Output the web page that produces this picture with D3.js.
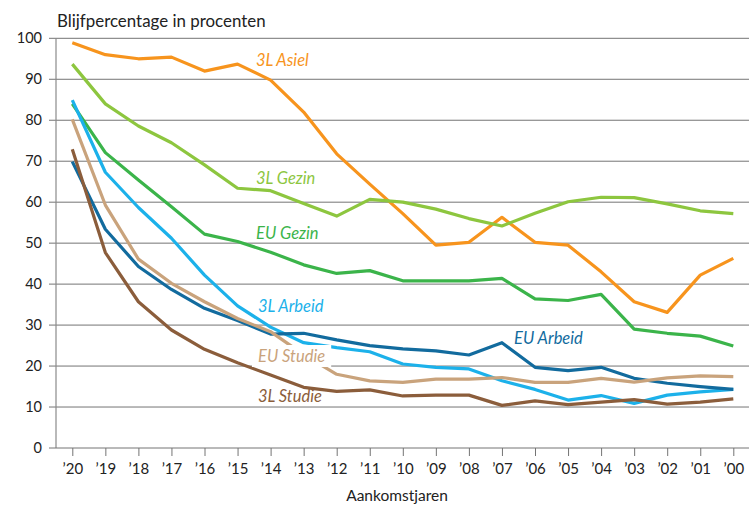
<!DOCTYPE html>
<html>
<head>
<meta charset="utf-8">
<script src="https://cdn.jsdelivr.net/npm/d3@7"></script>
<style>
    body { margin: 0; background: #fff; }
    text { font-family: Lato, "Noto Sans", sans-serif; }
</style>
</head>
<body>
<svg width="749" height="506"></svg>
<script>
var years = ['20', '19', '18', '17', '16', '15', '14', '13', '12', '11', '10', '09', '08', '07', '06', '05', '04', '03', '02', '01', '00']
var yTicks = [0, 10, 20, 30, 40, 50, 60, 70, 80, 90, 100]

var asiel3L = [98.9, 96.0, 95.0, 95.4, 92.0, 93.7, 89.8, 82.0, 71.8, 64.4, 57.2, 49.5, 50.2, 56.3, 50.2, 49.5, 43.0, 35.7, 33.1, 42.2, 46.3]
var gezin3L = [93.7, 84.0, 78.6, 74.5, 69.1, 63.4, 62.8, 59.7, 56.6, 60.7, 60.0, 58.3, 56.0, 54.2, 57.3, 60.1, 61.2, 61.1, 59.6, 57.9, 57.2]
var gezinEU = [84.0, 72.1, 65.4, 58.9, 52.2, 50.4, 47.8, 44.7, 42.6, 43.3, 40.8, 40.8, 40.8, 41.4, 36.4, 36.0, 37.5, 29.0, 28.0, 27.3, 24.9]
var arbeid3L = [84.9, 67.3, 58.7, 51.2, 42.2, 34.7, 29.5, 25.7, 24.5, 23.5, 20.5, 19.7, 19.3, 16.4, 14.3, 11.7, 12.8, 10.9, 12.9, 13.7, 14.3]
var arbeidEU = [69.9, 53.4, 44.3, 38.7, 34.1, 31.1, 27.8, 28.0, 26.4, 25.0, 24.2, 23.7, 22.7, 25.7, 19.7, 18.9, 19.7, 17.0, 15.8, 15.0, 14.3]
var studieEU = [80.2, 59.3, 46.1, 40.2, 35.7, 31.6, 28.4, 22.8, 18.0, 16.4, 16.0, 16.8, 16.8, 17.2, 16.0, 16.0, 17.0, 16.1, 17.1, 17.6, 17.4]
var studie3L = [72.9, 47.7, 35.7, 28.8, 24.1, 20.8, 17.8, 14.8, 13.8, 14.2, 12.7, 12.9, 12.9, 10.4, 11.5, 10.6, 11.2, 11.8, 10.7, 11.2, 12.0]

var series = [
    {name: '3L Asiel', values: asiel3L, color: '#f7941d', lx: 256, ly: 66},
    {name: '3L Gezin', values: gezin3L, color: '#8dc63f', lx: 256, ly: 184},
    {name: 'EU Gezin', values: gezinEU, color: '#3bb44a', lx: 256, ly: 239},
    {name: '3L Arbeid', values: arbeid3L, color: '#1cb1ea', lx: 258, ly: 312},
    {name: 'EU Arbeid', values: arbeidEU, color: '#126b9e', lx: 514, ly: 344},
    {name: 'EU Studie', values: studieEU, color: '#c9a37c', lx: 258, ly: 362, box: true},
    {name: '3L Studie', values: studie3L, color: '#8b5d3b', lx: 258, ly: 402}
]

var svg = d3.select('svg')

var x = d3.scalePoint().domain(years).range([72.3, 733.3])
var y = d3.scaleLinear().domain([0, 100]).range([448, 38.3])

// gridlines
svg.append('g')
    .selectAll('line')
    .data(yTicks.slice(1))
    .enter().append('line')
    .attr('x1', 49).attr('x2', 749)
    .attr('y1', function (d) { return y(d) })
    .attr('y2', function (d) { return y(d) })
    .attr('stroke', '#747474')
    .attr('stroke-width', 1)

// y labels
svg.append('g')
    .selectAll('text')
    .data(yTicks)
    .enter().append('text')
    .attr('x', 42)
    .attr('y', function (d) { return y(d) })
    .attr('dy', '0.35em')
    .attr('text-anchor', 'end')
    .attr('font-size', 14.5)
    .attr('fill', '#222')
    .text(function (d) { return d })

// y axis line
svg.append('line')
    .attr('x1', 56).attr('x2', 56)
    .attr('y1', y(100)).attr('y2', y(0))
    .attr('stroke', '#8a8a8a')
    .attr('stroke-width', 1.2)

// x axis
var xAxis = svg.append('g')
    .attr('transform', 'translate(0,' + y(0) + ')')
    .call(d3.axisBottom(x).tickSize(8).tickPadding(7).tickFormat(function (d) { return '\u2019' + d }))
xAxis.select('.domain').remove()
xAxis.append('line')
    .attr('x1', 49).attr('x2', 749)
    .attr('stroke', '#747474')
xAxis.selectAll('.tick line').attr('stroke', '#747474')
xAxis.selectAll('.tick text')
    .attr('font-size', 15)
    .attr('font-family', 'Lato, sans-serif')
    .attr('fill', '#222')

var line = d3.line()
    .x(function (d, i) { return x(years[i]) })
    .y(function (d) { return y(d) })

svg.append('g')
    .selectAll('path')
    .data(series)
    .enter().append('path')
    .attr('d', function (d) { return line(d.values) })
    .attr('fill', 'none')
    .attr('stroke', function (d) { return d.color })
    .attr('stroke-width', 3.2)
    .attr('stroke-linejoin', 'round')

// labels
var labels = svg.append('g')
series.forEach(function (s) {
    var t = labels.append('text')
        .attr('x', s.lx)
        .attr('y', s.ly)
        .attr('font-size', 16.5)
        .attr('font-style', 'italic')
        .attr('fill', s.color)
        .text(s.name)
    if (s.box) {
        var b = t.node().getBBox()
        labels.insert('rect', 'text')
            .attr('x', b.x - 6).attr('y', b.y - 1)
            .attr('width', b.width + 12).attr('height', b.height + 2)
            .attr('fill', '#fff')
    }
})

svg.append('text')
    .attr('x', 57)
    .attr('y', 27)
    .attr('font-size', 16.9)
    .attr('fill', '#222')
    .text('Blijfpercentage in procenten')

svg.append('text')
    .attr('x', 397)
    .attr('y', 501)
    .attr('text-anchor', 'middle')
    .attr('font-size', 15.5)
    .attr('fill', '#222')
    .text('Aankomstjaren')
</script>
</body>
</html>
